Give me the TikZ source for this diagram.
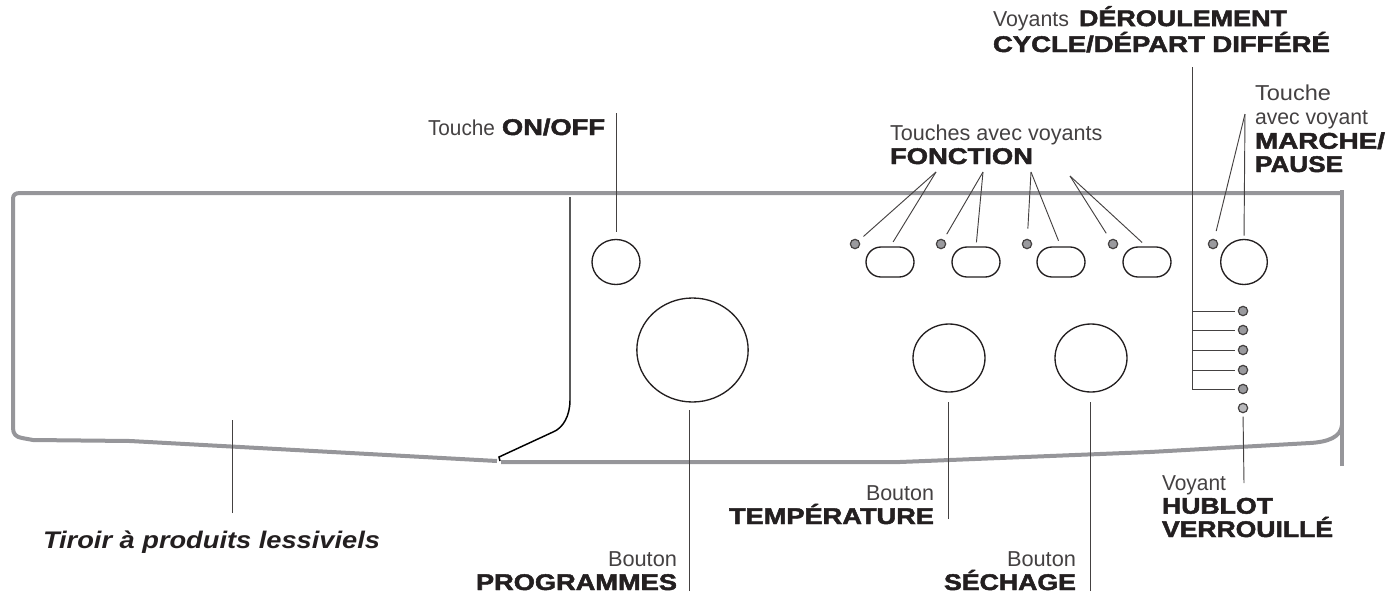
\documentclass[tikz,border=0pt]{standalone}
\usepackage{fontspec}
\usepackage{graphicx}
\setmainfont{Liberation Sans}
\usetikzlibrary{shapes.geometric,shapes.misc}
\definecolor{panelgray}{HTML}{96969A}
\definecolor{ledgray}{HTML}{9A9A9E}
\definecolor{inkc}{HTML}{231F20}
\newfontfamily\heavyfont{Liberation Sans}[FakeBold=2]
\newcommand{\hv}[2]{\resizebox{#1\dimexpr0.75pt\relax}{\height}{\fontsize{17}{17}\heavyfont\bfseries\color{inkc}#2}}
\newcommand{\lt}[2]{\resizebox{#1\dimexpr0.75pt\relax}{\height}{#2}}
\tikzset{
  panel/.style={draw=panelgray,line width=3pt,line join=round},
  ctrl/.style={draw=inkc,line width=1pt,fill=white,inner sep=0pt,outer sep=0pt},
  knob/.style={ctrl,ellipse},
  pill/.style={ctrl,rounded rectangle,minimum width=36pt,minimum height=22.5pt},
  led/.style={draw=inkc!85,line width=0.9pt,fill=ledgray,circle,minimum size=7pt,inner sep=0pt,outer sep=0pt},
  leader/.style={draw=inkc!85,line width=0.7pt},
  lab/.style={anchor=base west,inner sep=0pt,outer sep=0pt,align=left,text=inkc!85,font=\fontsize{16.2}{17.5}\selectfont,text depth=0pt},
  labr/.style={lab,anchor=base east,align=right},
}
\begin{document}
\begin{tikzpicture}[x=0.75pt,y=-0.75pt]
\useasboundingbox (0,0) rectangle (1400,593);
% panel outline
\draw[panel] (1342,466) -- (1342,190);
\draw[panel] (1342,193) -- (20,193) .. controls (15,193) and (13,195) .. (13,199) -- (13,428)
  .. controls (13,434) and (16,437) .. (22,438) -- (33,440) -- (130,441) -- (497,461);
\draw[panel] (501,462) -- (900,462) -- (1150,452) -- (1310,443)
  .. controls (1328,442) and (1341,437) .. (1342,425);
\draw[draw=black,line width=1.1pt] (570,197) -- (570,400) .. controls (570,416) and (563,428) .. (553,432)
  -- (499,457) -- (500,461);
% controls
\node[knob,minimum width=36pt,minimum height=33.75pt] (onoff) at (616,262) {};
\node[knob,minimum width=83.5pt,minimum height=78pt] (prog) at (692.5,350) {};
\node[knob,minimum width=54pt,minimum height=51pt] (temp) at (949,358) {};
\node[knob,minimum width=54pt,minimum height=51pt] (sech) at (1091,358) {};
\node[knob,minimum width=35pt,minimum height=33.75pt] (marche) at (1244,262) {};
\node[pill] (p1) at (890,262) {};
\node[pill] (p2) at (976,262) {};
\node[pill] (p3) at (1061,262) {};
\node[pill] (p4) at (1147,262) {};
\foreach \n/\xx in {l1/855,l2/941,l3/1027,l4/1113,lm/1213}
  \node[led] (\n) at (\xx,244) {};
\foreach \n/\yy in {s1/311,s2/330,s3/350,s4/370,s5/389}
  \node[led] (\n) at (1243,\yy) {};
\node[led,fill=ledgray!70] (s6) at (1243,408) {};
% free ends
\coordinate (conoff) at (616,113);
\coordinate (cf1) at (936,172);
\coordinate (cf2) at (983,172);
\coordinate (cf3) at (1031,172);
\coordinate (cf4) at (1070,176);
\coordinate (cm) at (1245,114);
\coordinate (ctrunk) at (1192,67);
\coordinate (ctrunkb) at (1192,389);
\coordinate (chub) at (1244,483);
\coordinate (cprog) at (689,591);
\coordinate (cprogt) at (689,410);
\coordinate (ctemp) at (948,519);
\coordinate (ctempt) at (948,402);
\coordinate (csech) at (1090,591);
\coordinate (csecht) at (1090,402);
\coordinate (ctir) at (232,513);
\coordinate (ctirb) at (232,420);
% connectors
\draw[leader,shorten >=6pt] (conoff) -- (onoff.north);
\draw[leader,shorten >=5pt] (cf1) -- (l1);
\draw[leader,shorten >=4.5pt] (cf1) -- (p1.north);
\draw[leader,shorten >=5pt] (cf2) -- (l2);
\draw[leader,shorten >=3.5pt] (cf2) -- (p2.north);
\draw[leader,shorten >=8pt] (cf3) -- (l3);
\draw[leader,shorten >=5pt] (cf3) -- (p3.north);
\draw[leader,shorten >=6pt] (cf4) -- (l4);
\draw[leader,shorten >=5pt] (cf4) -- (p4.north);
\draw[leader,shorten >=6.5pt] (cm) -- (lm);
\draw[leader,shorten >=3pt] (cm) -- (marche.north);
\draw[leader] (ctrunk) -- (ctrunkb);
\foreach \s in {s1,s2,s3,s4,s5}
  \draw[leader,shorten >=2.5pt] (ctrunkb |- \s) -- (\s.west);
\draw[leader,shorten >=3pt] (chub) -- (s6.south);
\draw[leader] (cprog) -- (cprogt);
\draw[leader] (ctemp) -- (ctempt);
\draw[leader] (csech) -- (csecht);
\draw[leader] (ctir) -- (ctirb);
% labels
\node[lab] (tonoff) at (428,135) {\lt{67}{Touche}\hspace{0.75pt}\ \hv{103}{ON/OFF}};
\node[lab] (tfonc) at (890,164) {Touches avec voyants\\\hv{143}{FONCTION}};
\node[lab] (tdero) at (993,52) {\lt{76}{Voyants}\hspace{3pt}\ \hv{208}{DÉROULEMENT}\\\hv{337}{CYCLE/DÉPART DIFFÉRÉ}};
\node[lab] (tmarche) at (1255,172) {\lt{76}{Touche}\\[1pt]\lt{113}{avec voyant}\\[0.5pt]\hv{130}{MARCHE/}\\\hv{88}{PAUSE}};
\node[lab] (thub) at (1162,537) {\lt{64}{Voyant}\\\hv{111}{HUBLOT}\\\hv{171}{VERROUILLÉ}};
\node[labr] (ttemp) at (934,524) {\lt{68}{Bouton}\\\hv{205}{TEMPÉRATURE}};
\node[labr] (tprog) at (677,590) {\lt{69}{Bouton}\\\hv{201}{PROGRAMMES}};
\node[labr] (tsech) at (1076,590) {\lt{69}{Bouton}\\\hv{132}{SÉCHAGE}};
\node[lab,text=inkc,font=\fontsize{18}{20}\selectfont\bfseries\itshape] (ttir) at (43,548) {\resizebox{337\dimexpr0.75pt\relax}{\height}{Tiroir à produits lessiviels}};
\end{tikzpicture}
\end{document}
